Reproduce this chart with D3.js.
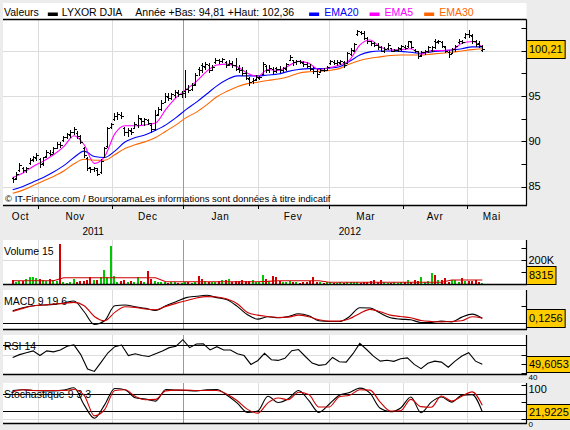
<!DOCTYPE html>
<meta charset="utf-8">
<style>
body { margin: 0; background: #ececec; }
svg { display: block; font-family: "Liberation Sans", Arial, sans-serif; }
</style>
<body>
<script src="https://d3js.org/d3.v7.min.js"></script>
<script>

// ---- data ----
const seriesName = "LYXOR DJIA";
const yearLow = 94.81, yearHigh = 102.36;

const monthNames = ["Oct", "Nov", "Dec", "Jan", "Fev", "Mar", "Avr", "Mai"];
const monthBars  = [8, 22, 21, 22, 21, 22, 19, 5];   // trading days shown per month
const yearNames  = ["2011", "2012"];
const yearMonths = [3, 5];                             // months shown per year

const open = [85.9,85.9,86.8,87.0,86.8,87.6,88.0,88.1,88.0,87.6,
  88.4,88.7,88.8,89.3,89.7,90.1,90.5,90.7,91.0,90.9,
  90.3,89.3,88.1,87.1,86.9,86.8,86.6,88.3,89.5,91.6,
  92.4,92.8,92.9,91.4,91.0,91.1,91.5,91.8,92.4,92.2,
  92.3,91.8,91.3,93.0,93.5,94.3,94.9,94.8,95.1,95.3,
  95.2,95.5,95.8,95.7,96.3,98.0,98.4,98.2,98.4,97.9,
  98.7,99.0,98.8,98.7,98.5,98.5,98.4,98.1,97.8,97.5,
  96.9,96.6,96.9,97.0,97.4,98.3,97.8,98.0,98.1,98.0,
  97.9,98.0,98.9,99.0,98.7,98.8,98.6,98.5,98.3,98.0,
  97.7,97.6,97.9,97.9,98.6,98.7,98.6,98.6,98.7,98.6,
  99.6,100.0,101.8,102.0,101.9,101.4,101.0,100.8,100.6,100.4,
  100.0,100.3,100.3,100.0,100.1,100.2,100.4,100.5,100.9,100.1,
  99.9,99.5,99.8,100.0,100.1,101.1,101.0,100.9,100.4,99.8,
  99.7,100.2,100.9,101.0,101.5,101.8,101.6,101.0,100.8,100.1];
const high = [86.0,86.6,87.6,87.1,87.2,88.1,88.4,88.7,88.1,88.3,
  89.0,89.0,89.4,89.9,89.9,90.6,90.9,91.2,91.6,91.1,
  90.7,89.4,88.2,87.2,87.2,87.0,88.0,89.4,91.6,92.0,
  93.1,93.2,93.2,91.6,91.4,91.4,92.1,92.9,92.6,92.6,
  92.5,92.0,93.4,93.8,94.5,95.3,95.3,95.3,95.6,95.6,
  95.5,97.8,96.2,96.4,97.5,98.2,98.6,98.7,98.6,98.4,
  99.2,99.1,99.2,98.8,98.9,98.8,99.2,98.4,98.2,97.8,
  97.1,97.0,97.3,97.2,98.7,98.4,98.4,98.2,98.2,98.3,
  98.2,98.6,99.5,99.0,99.0,99.0,98.8,98.7,98.5,98.2,
  98.0,98.0,98.1,98.3,98.9,98.9,98.9,98.9,98.8,99.8,
  100.3,100.8,102.3,102.2,102.2,101.5,101.1,100.9,100.8,100.5,
  100.4,100.8,100.3,100.2,100.4,100.6,100.6,101.1,101.1,100.2,
  100.0,99.9,100.1,100.5,100.5,101.3,101.2,101.0,100.5,100.1,
  100.3,100.6,101.3,101.2,101.9,102.3,101.8,101.2,101.0,100.6];
const low = [85.5,85.8,86.7,86.6,86.6,87.5,87.8,87.9,87.2,87.4,
  88.3,88.5,88.7,89.2,89.4,90.0,90.3,90.5,90.8,90.4,
  89.8,88.3,86.8,86.6,86.7,86.3,86.5,88.3,89.4,91.5,
  92.3,92.5,92.6,90.7,90.6,90.8,91.4,91.6,91.9,91.8,
  91.9,91.0,91.2,92.9,93.4,94.3,94.5,94.6,94.9,95.0,
  94.9,94.9,95.4,95.6,96.2,97.3,97.6,98.0,97.6,97.8,
  98.6,98.6,98.7,98.2,98.4,98.2,97.9,97.6,97.3,96.9,
  96.2,96.4,96.7,96.9,97.3,97.6,97.6,97.4,97.6,97.6,
  97.6,97.8,98.9,98.4,98.5,98.6,98.3,98.2,97.9,97.5,
  97.1,97.6,97.7,97.8,98.5,98.5,98.4,98.5,98.2,98.6,
  99.5,99.9,101.7,101.8,101.3,100.8,100.6,100.5,100.2,99.9,
  99.8,100.2,99.9,99.9,100.0,100.0,100.2,100.4,100.3,99.8,
  99.2,99.4,99.6,99.8,100.0,100.3,100.8,100.4,99.8,99.3,
  99.7,100.0,100.8,100.8,101.4,101.5,100.8,100.5,100.4,100.0];
const close = [85.8,86.4,87.4,86.8,87.0,87.9,88.2,88.5,87.5,88.2,
  88.8,88.6,89.3,89.7,89.6,90.5,90.8,91.0,91.3,90.6,
  89.9,88.5,87.0,86.9,87.0,86.4,87.8,89.2,91.4,91.9,
  92.8,93.0,92.8,91.0,91.2,91.0,91.9,92.6,92.2,92.4,
  92.0,91.3,92.9,93.5,94.2,95.0,94.8,95.2,95.4,95.2,
  95.3,95.8,95.6,96.2,97.3,97.9,98.3,98.5,97.8,98.2,
  99.0,98.8,99.1,98.4,98.6,98.4,98.0,97.8,97.5,97.0,
  96.5,96.8,97.1,97.1,98.5,97.8,98.1,97.7,98.0,97.9,
  98.1,98.5,99.3,98.7,98.8,98.7,98.5,98.3,98.0,97.7,
  97.4,97.9,97.8,98.2,98.8,98.6,98.7,98.8,98.4,99.7,
  100.1,100.7,102.2,101.9,101.4,101.0,100.8,100.6,100.4,100.0,
  100.2,100.6,100.0,100.1,100.3,100.5,100.3,101.0,100.4,99.9,
  99.4,99.8,100.0,100.4,100.4,100.9,101.0,100.5,99.9,99.6,
  100.2,100.5,101.1,100.9,101.8,101.7,101.0,100.7,100.5,100.21];

// volume, thousands of shares
const volumeK = [35,20,28,25,38,60,55,50,40,35,
  28,45,30,25,330,15,12,18,45,20,
  25,28,30,55,35,30,60,115,60,315,
  65,20,25,30,18,22,15,55,25,20,
  110,40,25,15,18,20,12,15,18,10,
  12,20,15,12,18,65,45,25,20,15,
  18,22,35,30,38,20,25,28,30,22,
  25,30,20,18,75,40,20,70,55,28,
  20,15,22,18,15,12,20,15,25,55,
  20,15,12,18,15,12,10,15,12,18,
  14,20,16,12,15,18,25,30,20,30,
  18,12,10,15,12,18,20,30,15,35,
  22,55,20,25,90,78,35,30,50,20,
  35,30,18,50,25,28,22,30,15,8.315];

// indicator lines, sampled evenly over the bar range
const ema20 = [84.65,85.0,85.5,86.0,86.6,87.3,88.2,88.9,88.3,88.2,
  88.9,89.9,90.4,90.7,91.2,91.8,92.6,93.5,94.3,95.2,
  96.1,96.8,97.2,97.2,97.2,97.3,97.4,97.7,97.9,98.0,
  98.0,98.05,98.2,98.8,99.5,99.85,99.95,99.95,99.9,99.8,
  99.7,99.85,99.95,100.05,100.2,100.4,100.4];
const ema5 = [86.0,86.5,87.2,87.8,88.5,89.4,90.6,89.6,87.55,88.3,
  90.8,91.7,91.7,91.8,92.0,93.5,94.8,95.7,96.6,97.7,
  98.4,98.5,98.2,97.5,97.15,97.9,97.8,98.3,98.8,98.6,
  97.9,98.1,98.4,98.95,100.6,101.15,100.4,100.05,100.1,100.2,
  99.6,100.0,100.0,100.05,100.8,101.0,100.4];
const ema30 = [84.25,84.6,85.1,85.6,86.1,86.7,87.5,88.0,87.9,87.9,
  88.5,89.2,89.6,89.95,90.4,91.1,91.8,92.6,93.2,94.0,
  94.9,95.5,96.0,96.35,96.5,96.7,96.85,97.1,97.5,97.65,
  97.7,97.8,98.0,98.5,98.9,99.15,99.3,99.45,99.5,99.5,
  99.5,99.6,99.7,99.8,99.95,100.1,100.2];
const volMa15K = [27,27,27,27,27,52,52,52,52,52,
  52,52,52,52,52,19,19,19,19,19,
  19,19,19,19,19,22,27,27,27,27,
  27,14,14,14,14,14,14,14,14,14,
  14,14,14,33,33,33,33];
const macd = [0.35,0.44,0.50,0.52,0.54,0.58,0.64,0.32,-0.06,0.05,
  0.50,0.52,0.47,0.42,0.36,0.50,0.62,0.74,0.78,0.81,
  0.74,0.68,0.48,0.23,0.10,0.17,0.14,0.18,0.26,0.20,
  0.05,0.03,0.03,0.18,0.44,0.43,0.28,0.14,0.10,0.08,
  0.00,0.00,0.04,0.02,0.16,0.25,0.1256];
const macdSignal = [0.33,0.42,0.49,0.52,0.55,0.57,0.60,0.50,0.18,0.05,
  0.30,0.47,0.45,0.40,0.38,0.48,0.57,0.65,0.73,0.77,
  0.76,0.70,0.56,0.30,0.22,0.18,0.15,0.16,0.22,0.17,
  0.08,0.04,0.04,0.11,0.27,0.39,0.32,0.22,0.18,0.14,
  0.06,0.03,0.02,0.03,0.05,0.17,0.13];
const rsi14 = [57,60,62,64,59,64,63,65,69,70.5,
  60,44.5,42,52,62,68.5,70.3,59,61,59,
  58,61,64,67.5,69,76,67.5,71.4,71.5,65,
  68.5,65,65,61,59,49.5,53.5,61.4,54.5,53.8,
  56,64.2,65.5,58,51,48.5,49.5,57,52.4,52,
  61,72,65.5,58.4,53,54,52.8,55.6,56.5,49.5,
  45,50.7,53,52,46.5,53,58.5,62,53,49.6053];
const stochK = [84,86,84,83,83,85,92,42,3,42,
  90,86,63,59,53,87,85,84,83,86,
  87,70,47,20,24,67,49,60,84,55,
  20,44,70,78,91,76,32,22,33,65,
  19,50,65,50,70,72,21.9225];
const stochD = [80,86,84,84,84,84,87,70,10,28,
  84,86,67,57,58,83,85,85,84,84,
  84,73,54,29,18,48,62,57,79,72,
  36,36,66,70,86,85,50,24,25,58,
  37,35,68,53,67,80,41];

// ---- layout ----
const W = 570, H = 430;
const LEFT = 3, RIGHT = 526.5;
const n = close.length;

const x = d3.scaleLinear().domain([0, n - 1]).range([12.7, 482.3]);
const comma = v => String(v).replace(".", ",");

const panels = [
  { key: "main", top: 3, gridTop: 19.5, bottom: 205.5,
    y: d3.scaleLinear().domain([85, 100]).range([186.5, 50.5]),
    grid: [85, 90, 95, 100], ticks: d3.range(85, 103, 2.5), labels: [85, 90, 95],
    fmt: d => d, refs: [], last: close[n - 1], lastText: comma(close[n - 1]), bh: 18 },
  { key: "vol", top: 240, bottom: 284.5, label: "Volume 15",
    y: d3.scaleLinear().domain([0, 200]).range([284, 260]),
    grid: [200], ticks: [100, 200, 300], labels: [200],
    fmt: d => d + "K", refs: [], last: volumeK[n - 1], lastText: String(Math.round(volumeK[n - 1] * 1000)), bh: 18 },
  { key: "macd", top: 290, bottom: 329.5, label: "MACD 9 19 6",
    y: d3.scaleLinear().domain([0, 0.5]).range([322.5, 305.7]),
    grid: [], ticks: [0.5], labels: [],
    fmt: d => d, refs: [0], last: macd[macd.length - 1], lastText: comma(macd[macd.length - 1]), bh: 18 },
  { key: "rsi", top: 335, bottom: 374.5, label: "RSI 14",
    y: d3.scaleLinear().domain([40, 70]).range([373.3, 345.3]),
    grid: [60], ticks: [40, 50, 60], labels: [40],
    fmt: d => d, refs: [70], last: rsi14[rsi14.length - 1], lastText: comma(rsi14[rsi14.length - 1]), bh: 16 },
  { key: "stoch", top: 383, bottom: 423.5, label: "Stochastique 9 3 3",
    y: d3.scaleLinear().domain([0, 100]).range([419.3, 385]),
    grid: [0], ticks: [0, 50, 100], labels: [0, 100],
    fmt: d => d, refs: [75, 25], last: stochK[stochK.length - 1], lastText: comma(stochK[stochK.length - 1]), bh: 15 }
];
const P = {};
panels.forEach(p => { P[p.key] = p; if (p.gridTop === undefined) p.gridTop = p.top; });

// month boundaries (bar index where each month starts)
const monthStart = [];
monthBars.reduce((acc, c) => { monthStart.push(acc); return acc + c; }, 0);
const bx = i => Math.round(x(i - 0.5)) + 0.5;
const yearStartMonth = yearMonths.slice(0, -1).map((_, k) => d3.sum(yearMonths.slice(0, k + 1)));

const svg = d3.select("body").append("svg")
    .attr("width", W)
    .attr("height", H);

svg.append("rect").attr("width", W).attr("height", H).attr("fill", "#ececec");

panels.forEach(p => {
  const g = svg.append("g").attr("class", "panel-" + p.key);
  g.append("rect")
      .attr("x", LEFT).attr("y", p.top)
      .attr("width", RIGHT - LEFT).attr("height", p.bottom - p.top)
      .attr("fill", "#fff");

  // horizontal grid
  g.selectAll(".hgrid").data(p.grid).enter().append("line")
      .attr("x1", LEFT).attr("x2", RIGHT)
      .attr("y1", d => Math.round(p.y(d)) + 0.5).attr("y2", d => Math.round(p.y(d)) + 0.5)
      .attr("stroke", "#dcdcdc");

  // vertical month grid
  g.selectAll(".vgrid").data(monthStart.slice(1).map((s, k) => ({ s: s, m: k + 1 }))).enter().append("line")
      .attr("x1", d => bx(d.s)).attr("x2", d => bx(d.s))
      .attr("y1", p.gridTop).attr("y2", p.bottom)
      .attr("stroke", d => yearStartMonth.indexOf(d.m) >= 0 ? "#9a9a9a" : "#dcdcdc");

  if (p.label) {
    g.append("text").attr("x", 4).attr("y", p.top + 14.5)
        .style("font-size", "10.5px").text(p.label);
  }

  // reference lines
  g.selectAll(".ref").data(p.refs).enter().append("line")
      .attr("x1", LEFT).attr("x2", RIGHT)
      .attr("y1", d => Math.round(p.y(d)) + 0.5).attr("y2", d => Math.round(p.y(d)) + 0.5)
      .attr("stroke", "#000").attr("stroke-width", 1.2);
  p.g = g;
});

const sampled = arr => arr.map((v, j) => ({ i: j * (n - 1) / (arr.length - 1), v: v }));
function drawLine(p, arr, color, curve) {
  p.g.append("path")
      .datum(sampled(arr))
      .attr("fill", "none")
      .attr("stroke", color)
      .attr("stroke-width", 1.1)
      .attr("d", d3.line().x(d => x(d.i)).y(d => p.y(d.v)).curve(curve || d3.curveMonotoneX));
}

// ---- main panel ----
drawLine(P.main, ema30, "#ff6600");
drawLine(P.main, ema20, "#0000ff");
drawLine(P.main, ema5, "#ff00ff");

const ym = P.main.y;
P.main.g.append("path")
    .attr("fill", "none")
    .attr("stroke", "#000")
    .attr("shape-rendering", "crispEdges")
    .attr("d", close.map((c, i) => {
      const xi = Math.round(x(i)) + 0.5;
      const yh = Math.round(ym(high[i])), yl = Math.round(ym(low[i]));
      const yo = Math.round(ym(open[i])) + 0.5, yc = Math.round(ym(c)) + 0.5;
      return "M" + xi + "," + yh + "V" + (yl + 1) +
             "M" + (xi - 2) + "," + yo + "H" + xi +
             "M" + xi + "," + yc + "H" + (xi + 2);
    }).join(""));

P.main.g.append("text")
    .attr("x", 5).attr("y", 201.5)
    .style("font-size", "9.5px")
    .text("\u00a9 IT-Finance.com / BoursoramaLes informations sont donn\u00e9es \u00e0 titre indicatif");

// header
const head = svg.append("g").style("font-size", "10.5px");
let cx = 4;
const hv = head.append("text").attr("x", cx).attr("y", 16).text("Valeurs");
cx += hv.node().getComputedTextLength() + 9;
head.append("rect").attr("x", cx).attr("y", 12.5).attr("width", 10).attr("height", 3.5).attr("fill", "#000");
cx += 14;
const hs = head.append("text").attr("x", cx).attr("y", 16).text(seriesName);
cx += hs.node().getComputedTextLength() + 13;
const hy = head.append("text").attr("x", cx).attr("y", 16)
    .text("Ann\u00e9e +Bas: " + comma(yearLow) + " +Haut: " + comma(yearHigh));
cx += hy.node().getComputedTextLength() + 15;
[["EMA20", "#0000ff"], ["EMA5", "#ff00ff"], ["EMA30", "#ff6600"]].forEach(([name, col]) => {
  head.append("rect").attr("x", cx).attr("y", 12.5).attr("width", 10).attr("height", 3.5).attr("fill", col);
  const t = head.append("text").attr("x", cx + 15).attr("y", 16).attr("fill", col).text(name);
  cx += 15 + t.node().getComputedTextLength() + 11;
});
svg.append("line").attr("x1", LEFT).attr("x2", RIGHT).attr("y1", 19.5).attr("y2", 19.5)
    .attr("stroke", "#000").attr("stroke-width", 1.3);

// ---- volume ----
const yv = P.vol.y;
P.vol.g.selectAll(".vbar").data(volumeK).enter().append("rect")
    .attr("x", (d, i) => Math.round(x(i)) - 1)
    .attr("y", d => Math.round(yv(d)))
    .attr("width", 2)
    .attr("height", d => Math.max(1, 284 - Math.round(yv(d))))
    .attr("fill", (d, i) => close[i] >= open[i] ? "#00c800" : "#d20000");
drawLine(P.vol, volMa15K, "#cc0000", d3.curveLinear);

// ---- macd, rsi, stochastic ----
drawLine(P.macd, macd, "#000");
drawLine(P.macd, macdSignal, "#cc0000");
drawLine(P.rsi, rsi14, "#000", d3.curveLinear);
drawLine(P.stoch, stochK, "#000");
drawLine(P.stoch, stochD, "#cc0000");

// ---- borders, right axes, value boxes ----
panels.forEach(p => {
  const g = svg.append("g");
  g.append("line").attr("x1", LEFT).attr("x2", RIGHT + 0.5)
      .attr("y1", p.bottom).attr("y2", p.bottom)
      .attr("stroke", "#000").attr("stroke-width", 1.4);
  g.append("line").attr("x1", RIGHT).attr("x2", RIGHT)
      .attr("y1", p.gridTop).attr("y2", p.bottom)
      .attr("stroke", "#000").attr("stroke-width", 1.2);
  g.selectAll(".tk").data(p.ticks).enter().append("line")
      .attr("x1", RIGHT - 5).attr("x2", RIGHT)
      .attr("y1", d => Math.round(p.y(d)) + 0.5).attr("y2", d => Math.round(p.y(d)) + 0.5)
      .attr("stroke", "#000");
  const labels = g.selectAll(".tl").data(p.labels).enter().append("text")
      .attr("x", RIGHT + 2).attr("y", d => p.y(d))
      .attr("dy", "0.36em")
      .style("font-size", "11px")
      .text(p.fmt);
  // keep labels below the panel's top edge
  labels.each(function () {
    const bb = this.getBBox();
    if (bb.y < p.top) d3.select(this).attr("y", +d3.select(this).attr("y") + (p.top - bb.y));
  });

  const bh = p.bh;
  let by = Math.round(p.y(p.last) - bh / 2) + 0.5;
  by = Math.max(p.gridTop, Math.min(p.bottom - bh, by));
  const box = g.append("g");
  const rect = box.append("rect")
      .attr("x", RIGHT).attr("y", by)
      .attr("height", bh)
      .attr("fill", "#ffcc00").attr("stroke", "#000");
  const t = box.append("text")
      .attr("x", RIGHT + 2.5).attr("y", by + bh / 2)
      .attr("dy", "0.36em")
      .style("font-size", "11px")
      .text(p.lastText);
  rect.attr("width", t.node().getComputedTextLength() + 5);

  // a tick label hidden by the value box peeks out, small, just below it
  labels.each(function () {
    let bb = this.getBBox();
    if (bb.y < by + bh && bb.y + bb.height > by) {
      const s = d3.select(this).style("font-size", "8px");
      bb = this.getBBox();
      s.attr("y", +s.attr("y") + (by + bh + 0.5 - bb.y));
    }
  });
});

// main x axis: month ticks, month and year labels
const axis = svg.append("g").style("font-size", "10px");
axis.selectAll(".mt").data(monthStart.slice(1)).enter().append("line")
    .attr("x1", d => bx(d)).attr("x2", d => bx(d))
    .attr("y1", 205.5).attr("y2", 209)
    .attr("stroke", "#000");
axis.selectAll(".ml").data(monthNames).enter().append("text")
    .attr("x", (d, k) => {
      const a = k === 0 ? LEFT : x(monthStart[k] - 0.5);
      const b = k === monthNames.length - 1 ? RIGHT - 10 : x(monthStart[k + 1] - 0.5);
      return (a + b) / 2;
    })
    .attr("y", 220)
    .attr("text-anchor", "middle")
    .style("letter-spacing", "0.6px")
    .text(d => d);
let mAcc = 0;
yearNames.forEach((name, k) => {
  const m0 = mAcc, m1 = mAcc + yearMonths[k];
  const a = m0 === 0 ? LEFT : x(monthStart[m0] - 0.5);
  const b = m1 >= monthNames.length ? RIGHT - 10 : x(monthStart[m1] - 0.5);
  axis.append("text").attr("x", (a + b) / 2).attr("y", 235)
      .attr("text-anchor", "middle").text(name);
  mAcc = m1;
});

</script>
</body>
